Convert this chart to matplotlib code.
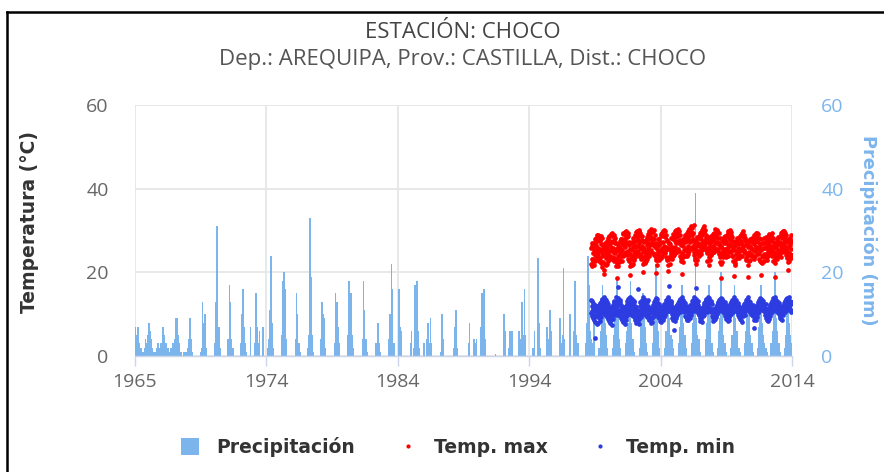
import matplotlib.pyplot as plt
from matplotlib.patches import Patch
from matplotlib.lines import Line2D
import numpy as np

# Station chart: daily precipitation (bars) and daily max/min temperature (dots)
# Values (monthly peaks for rain, 4 samples/month for temps)

precip_first_year = 1965
# one row per year, Jan..Dec, mm
precip_1965_1974 = """
7 5 7 3 2 2 1 1 2 4 3 5
8 6 4 2 1 1 1 2 3 2 2 3
7 7 5 3 1 2 1 1 2 3 3 4
9 9 5 3 1 1 0 1 1 1 1 2
4 9 4 1 0 0 0 0 0 0 1 2
13 8 10 2 0 0 0 0 0 0 0 3
13 31 7 7 2 0 0 0 0 0 0 4
17 13 4 2 0 0 0 0 0 0 3 10
16 7 3 1 0 0 0 7 0 0 0 3
15 7 3 6 0 0 7 0 0 0 2 4
"""
precip_1975_1984 = """
11 24 8 2 0 0 0 0 0 0 0 5
18 20 16 4 0 0 0 0 0 0 0 4
15 10 3 1 0 0 0 0 0 0 2 5
33 19 5 1 0 0 0 0 0 0 4 13
10 9 2 0 0 0 0 0 0 0 3 15
13 7 3 0 0 0 0 0 0 0 5 18
12 15 5 2 0 0 0 0 0 0 0 4
18 11 4 1 0 0 0 0 0 0 0 3
2 8 3 1 0 0 0 0 0 0 0 4
10 22 16 3 0 0 0 0 16 7 6 0
"""
precip_1985_1994 = """
0 0 0 0 0 0 3 6 0 2 17 5
18 6 2 0 0 0 3 0 0 4 8 3
9 3 0 0 0 0 0 0 0 1 10 4
0 0 0 0 0 0 0 0 0 2 7 11
2 0 0 0 0 0 0 0 0 0 3 8
0 0 0 4 3 4 0 0 0 7 15 5
16 4 0 0 0 0 0 0 0 0 0.5 0
0 0 0 0 0 0 10 6 0 0 2 6
3 6 0 0 0 0 0 6 0 4 13 5
16 5 0 0 0 0 0 0 2 6 0 0
"""
precip_1995_2004 = """
23.5 8 2 0 0 0 0 0 7 3 4 11
6 0 0 0 0 0 0 0 9 3 5 21
4 0 0 0 0 10 0 0 6 18 5 2
3 0 0 0 0 0 0 3 8 24 17 6
4 3 8 0 0 0 0 2 6 10 17 9
8 5 2 0 0 0 0 2 5 9 11 19
9 4 2 0 0 0 0 3 6 8 12 18
8 4 1 0 0 0 0 2 7 10 15 9
7 3 1 0 0 0 0 3 8 11 22 10
6 2 0 0 0 0 2 6 10 14 9 5
"""
precip_2005_2013 = """
4 2 0 0 0 0 3 7 11 17 8 4
5 2 0 0 0 0 3 8 12 39 9 5
4 1 0 0 0 0 4 8 11 17 9 3
3 1 0 0 0 2 6 9 20 10 5 3
3 1 0 0 0 2 5 10 17 9 6 2
2 1 0 0 0 3 6 9 14 11 5 2
3 1 0 0 0 2 7 10 17 8 5 3
2 1 0 0 0 3 6 11 20 9 6 2
3 1 0 0 0 2 5 10 14 8 5 3
"""

temp_first_year = 1999
sample_days = [4, 11, 19, 26]
# one row per year 1999..2013, 4 readings per month Jan..Dec, degC
tmax_rows = """
21.9 25.8 23.1 27.0 26.2 21.4 24.7 22.6 23.3 27.1 21.8 25.4 25.9 22.7 28.0 24.1 22.9 26.6 24.8 28.3 27.4 23.6 28.9 25.0 24.3 29.0 25.7 22.8 28.7 25.1 23.4 27.6 23.0 27.9 25.6 28.8 26.8 22.2 28.1 24.0 21.2 24.9 26.6 22.4 24.5 20.6 25.9 19.7
25.6 22.0 24.2 27.1 21.8 26.4 23.5 25.0 27.5 23.9 21.9 25.8 24.4 28.1 22.6 26.7 28.6 25.2 23.1 27.0 23.8 27.6 29.2 25.3 26.1 23.2 28.7 29.4 29.1 24.9 27.3 23.6 25.7 29.0 23.4 27.8 22.7 26.9 28.3 24.6 27.0 23.1 21.5 25.4 22.3 25.8 18.7 24.0
23.0 26.8 21.6 25.1 26.0 22.4 27.4 24.3 22.9 25.7 28.0 24.0 27.9 24.6 22.7 26.8 25.3 29.1 23.9 27.3 29.4 26.2 24.1 28.0 24.7 27.8 29.7 26.0 27.1 30.0 24.9 28.6 28.5 24.2 26.9 29.3 25.0 28.7 23.3 27.2 22.6 26.5 24.4 21.4 25.6 19.3 23.8 21.9
26.9 23.2 25.4 21.8 23.6 27.6 22.1 26.1 28.2 24.5 26.7 23.0 25.1 29.0 23.7 27.5 29.6 26.0 24.3 28.4 24.8 28.9 30.0 26.6 27.7 25.2 29.8 23.9 30.1 26.9 24.5 28.8 25.9 29.4 23.8 27.4 23.1 27.7 25.6 28.6 26.3 22.0 20.1 24.8 22.4 25.7 27.3 23.5
23.8 27.4 25.0 22.3 27.8 24.1 22.6 26.5 24.9 28.5 23.3 27.0 29.2 25.6 27.9 23.9 26.3 29.8 24.6 28.1 28.9 25.0 30.3 26.8 25.4 29.6 27.2 30.0 28.3 24.7 29.9 26.5 30.1 26.7 24.2 28.0 24.5 28.9 26.1 22.9 27.1 23.4 19.8 25.5 23.0 26.4 21.7 25.2
27.9 24.3 26.6 22.9 23.8 28.0 25.1 27.2 26.9 23.4 29.1 25.5 28.6 25.2 23.9 29.4 25.8 29.9 27.3 24.6 30.1 26.4 28.8 24.9 24.7 28.5 30.0 26.1 28.9 25.3 23.6 27.7 22.9 27.4 25.8 21.7 25.6 20.4 23.7 27.1 23.2 27.0 21.9 25.5 26.8 23.5 28.2 24.9
24.4 28.3 26.0 23.3 27.9 25.0 29.1 23.8 25.3 28.8 24.2 27.6 29.8 26.1 24.7 28.5 26.9 30.2 25.3 28.9 24.8 29.3 27.5 30.4 28.6 25.6 30.0 26.9 25.2 28.9 23.9 27.4 27.8 23.4 26.5 22.6 23.5 19.5 26.7 24.6 26.2 22.4 27.9 24.1 23.9 27.6 25.3 28.4
27.2 24.0 28.9 25.6 25.1 28.7 23.9 27.4 29.3 25.8 27.9 24.4 26.4 30.0 25.0 28.6 30.4 27.2 25.9 29.1 25.8 29.7 31.0 27.4 28.9 26.1 30.6 27.7 29.4 25.6 27.9 24.8 24.1 31.2 26.6 22.9 27.3 23.4 25.6 22.1 24.6 27.8 23.0 26.2 28.4 25.2 27.1 24.3
25.0 28.6 26.5 23.8 28.2 24.9 29.4 26.3 25.7 29.6 24.3 28.0 30.1 26.9 25.4 29.0 27.3 30.7 26.0 29.6 29.9 26.5 31.0 27.8 26.7 30.2 28.4 25.9 29.0 25.3 27.8 24.6 22.8 27.6 25.2 28.5 25.9 21.8 27.0 23.6 27.7 24.1 26.3 22.9 25.4 28.6 24.2 27.3
27.9 24.6 28.8 25.3 24.9 29.1 26.3 27.7 29.5 26.0 24.8 28.6 26.9 30.3 25.6 29.0 28.4 25.4 30.0 27.2 30.2 26.8 28.3 25.2 25.5 29.3 27.0 24.3 28.1 23.7 26.2 22.4 21.9 26.4 18.6 24.7 25.9 22.5 27.6 24.1 23.6 27.8 25.0 28.4 26.9 24.0 28.7 25.6
24.8 28.3 23.6 26.9 27.5 24.2 29.0 25.7 25.4 29.4 26.7 23.9 29.8 26.2 24.9 28.3 26.5 30.1 27.8 25.0 28.9 24.8 29.6 26.4 27.2 23.9 28.4 25.6 24.0 27.5 22.6 26.3 25.4 19.2 23.0 21.8 22.3 26.6 24.5 27.4 27.2 23.4 28.3 25.1 24.3 28.0 25.9 27.0
26.7 23.5 28.2 25.0 24.1 28.6 25.5 27.3 28.9 25.3 27.6 24.0 25.7 29.5 26.8 28.7 29.8 26.3 24.9 28.2 25.4 29.0 27.6 24.6 28.3 24.9 26.6 23.4 22.9 26.9 24.5 27.4 23.8 18.9 26.0 21.7 26.3 22.6 24.8 27.5 24.1 27.9 22.9 26.2 27.6 24.3 25.7 28.1
23.9 27.3 25.5 28.0 27.6 24.0 26.7 23.2 25.2 28.9 23.9 27.5 28.8 25.4 29.3 26.1 26.0 29.5 24.7 28.1 29.1 25.9 27.3 24.4 24.6 28.2 26.1 23.3 26.8 22.7 25.6 28.0 22.5 25.4 19.4 24.0 25.7 22.3 27.1 23.6 27.0 23.9 25.8 22.8 24.5 28.3 25.9 27.2
27.0 23.7 26.1 28.4 24.4 27.9 22.9 26.5 28.6 25.0 27.4 23.8 25.6 29.1 26.7 28.3 29.0 26.0 24.6 27.8 26.1 28.9 25.0 29.3 23.9 27.6 25.8 28.2 26.3 22.6 27.1 24.2 24.8 18.8 23.1 26.0 22.2 25.9 23.5 27.2 26.5 23.2 28.0 24.7 23.9 27.3 25.4 28.5
25.1 28.4 24.0 27.2 28.7 24.6 26.8 23.6 26.0 29.5 24.9 28.1 29.6 25.8 28.4 26.7 25.3 29.8 27.2 30.0 28.6 24.9 29.5 26.4 27.8 24.1 28.9 25.5 23.5 27.3 25.1 28.0 26.1 20.5 24.0 22.4 24.6 27.8 22.7 26.5 28.1 24.3 26.9 23.5 25.6 28.9 24.2 27.6
"""
tmin_rows = """
13.4 10.2 12.0 9.6 10.8 13.1 11.5 9.1 12.7 9.4 11.0 8.6 9.9 12.3 4.4 10.7 8.2 11.6 9.5 12.0 11.1 8.0 10.4 7.6 9.6 11.9 7.9 10.3 12.1 9.0 10.9 8.4 10.1 12.6 9.3 11.7 12.9 10.4 13.5 11.2 11.0 13.7 10.3 12.5 13.2 10.7 12.4 14.0
10.5 13.6 11.8 9.7 12.9 10.1 13.3 11.3 9.4 12.2 10.8 13.0 11.7 8.9 12.4 10.0 9.0 11.5 8.3 10.6 10.8 7.8 11.6 9.2 8.6 11.2 9.9 7.5 11.4 8.8 12.1 10.2 9.7 12.5 10.6 13.0 13.2 10.9 12.0 9.8 11.6 14.0 10.5 12.8 10.4 13.1 11.9 16.4
12.6 9.9 13.8 11.1 10.3 12.9 9.6 13.4 13.0 10.7 11.9 9.2 9.5 12.1 10.4 8.6 11.4 8.4 10.7 9.6 8.1 10.9 9.3 11.6 10.2 7.7 11.3 8.9 9.4 12.0 8.7 11.0 12.4 9.8 13.1 10.5 10.9 13.6 11.6 12.7 13.9 11.2 12.5 10.1 11.8 14.1 10.6 13.0
11.0 13.5 9.8 12.3 13.7 10.6 12.5 9.5 10.1 12.8 11.4 13.2 12.0 9.1 10.8 8.5 9.3 11.8 8.0 10.5 11.0 8.6 10.1 15.9 8.3 10.8 9.6 7.7 10.7 8.9 12.0 9.8 12.9 10.3 11.7 9.4 10.6 13.4 12.1 11.0 12.8 10.2 14.0 11.5 13.6 11.3 12.4 10.0
12.2 9.7 13.4 11.0 10.4 13.0 11.7 9.3 12.9 10.1 11.3 13.3 9.6 11.9 8.9 10.9 11.5 8.5 10.2 9.0 8.8 11.2 7.9 10.4 10.6 8.2 11.4 9.4 9.1 11.7 10.3 12.3 11.9 9.6 12.8 10.7 13.3 11.1 12.2 10.0 10.9 13.8 11.6 12.9 12.5 10.3 13.7 11.4
11.6 9.4 12.5 10.3 9.0 11.7 10.1 8.4 10.8 8.2 11.5 9.3 8.7 10.5 9.7 11.8 10.9 8.6 12.0 9.9 9.4 11.6 10.5 12.4 12.2 9.9 11.1 13.0 10.6 13.3 11.9 12.7 13.5 11.0 12.4 14.0 11.8 13.9 10.8 16.8 13.1 10.9 12.6 11.4 10.7 13.2 11.5 12.8
12.4 10.1 11.3 9.2 10.6 8.7 11.8 9.5 8.9 11.1 6.3 10.4 10.2 8.3 11.4 9.0 11.7 9.5 10.6 12.3 9.8 12.1 10.9 11.4 12.6 10.3 13.2 11.5 11.0 13.4 12.2 10.5 13.7 11.6 12.9 10.8 12.1 14.1 11.3 13.2 10.9 13.5 12.4 11.7 13.0 10.6 12.1 11.2
10.8 12.6 9.6 11.5 9.3 11.9 8.6 10.7 11.2 8.9 10.4 9.7 8.5 10.9 9.4 11.6 10.3 12.2 9.1 11.0 12.0 9.8 11.4 10.5 10.9 13.1 11.8 12.5 13.4 11.3 12.8 10.7 11.9 14.0 12.6 13.3 13.6 11.5 12.3 16.2 12.0 13.7 10.8 12.9 11.3 12.7 10.2 13.1
12.1 9.9 11.4 10.6 10.0 8.4 11.3 9.2 8.8 10.7 9.6 11.5 10.4 8.1 11.0 9.5 9.6 11.8 10.5 12.1 11.5 9.9 12.6 10.8 12.9 10.9 11.7 13.4 11.2 13.6 12.4 10.6 13.3 11.7 14.0 12.5 12.2 13.8 11.1 12.9 13.5 11.4 12.7 10.9 11.0 12.8 10.4 13.2
10.7 12.4 9.5 11.3 9.1 11.0 8.3 10.4 10.6 8.6 11.3 9.4 8.9 10.8 9.8 11.6 11.2 9.4 12.1 10.3 10.0 12.6 11.1 12.0 12.8 10.7 13.4 11.6 11.3 13.7 12.2 10.9 13.9 12.0 12.7 11.4 12.4 10.8 13.6 11.9 11.1 13.2 12.3 10.5 12.6 10.3 11.7 12.9
11.4 9.6 12.2 10.3 8.8 10.9 9.7 11.5 10.2 8.4 11.1 9.1 11.7 9.3 10.5 8.7 9.8 11.9 10.7 12.4 12.2 10.1 11.5 12.9 11.0 13.3 12.1 10.6 13.5 11.6 12.8 11.1 12.3 14.0 11.5 13.2 11.8 13.1 10.9 12.6 13.4 11.3 12.4 10.8 10.5 12.7 11.6 9.9
10.2 12.0 9.3 11.1 11.4 8.9 10.5 9.6 8.6 10.8 9.9 11.2 10.1 8.2 11.3 9.5 11.8 9.7 10.6 12.2 10.4 12.5 11.7 9.9 12.7 11.0 13.3 12.0 11.5 13.6 10.9 12.8 13.1 11.8 14.0 12.4 12.6 10.7 13.2 11.4 11.2 13.0 12.1 10.6 12.3 10.1 11.8 10.9
11.6 9.8 10.7 12.3 9.5 11.2 6.8 10.4 10.9 8.7 11.6 9.3 9.0 11.1 10.2 8.5 10.6 12.3 9.4 11.5 12.1 10.2 12.8 11.0 11.4 13.4 12.2 10.8 13.0 11.7 13.8 12.4 12.1 13.6 11.3 12.9 13.5 11.6 12.7 10.9 11.9 13.1 10.7 12.5 10.8 12.4 11.5 9.8
10.9 12.5 9.7 11.2 9.2 11.3 8.6 10.6 11.0 9.5 10.3 8.4 8.8 10.7 9.9 11.4 11.6 9.6 12.3 10.5 10.3 12.6 11.4 12.1 13.1 11.2 12.5 10.8 11.7 13.8 12.9 11.3 13.4 12.2 14.0 11.6 12.0 13.5 11.1 12.8 13.0 11.0 12.4 10.4 11.5 12.9 10.6 12.2
11.8 10.0 12.6 9.6 10.7 9.0 11.5 9.8 8.9 11.2 10.1 12.0 10.5 8.6 11.3 9.7 12.0 10.4 11.1 12.7 11.3 13.1 10.6 12.4 12.9 11.5 13.6 12.2 11.1 13.3 12.5 13.9 13.7 12.0 12.8 11.2 12.4 14.0 11.7 13.1 11.0 12.9 12.2 10.6 12.6 11.1 13.0 10.8
"""

x_tick_labels = ['1965', '1974', '1984', '1994', '2004', '2014']
y_ticks = [0, 20, 40, 60]


def parse_rows(text):
    return [[float(v) for v in line.split()] for line in text.strip().splitlines()]


# monthly rain bars
precip_rows = (parse_rows(precip_1965_1974) + parse_rows(precip_1975_1984) +
               parse_rows(precip_1985_1994) + parse_rows(precip_1995_2004) +
               parse_rows(precip_2005_2013))
precip_x, precip_mm = [], []
for i, row in enumerate(precip_rows):
    for m, v in enumerate(row):
        precip_x.append(precip_first_year + i + (m + 0.5) / 12)
        precip_mm.append(v)


def temp_series(text):
    xs, ys = [], []
    for i, row in enumerate(parse_rows(text)):
        for j, v in enumerate(row):
            m, k = divmod(j, 4)
            xs.append(temp_first_year + i + (m + sample_days[k] / 30.5) / 12)
            ys.append(v)
    return xs, ys


tmax_x, tmax = temp_series(tmax_rows)
tmin_x, tmin = temp_series(tmin_rows)

W, H = 884, 472
fig = plt.figure(figsize=(W / 100, H / 100), dpi=100)
fig.patch.set_facecolor('white')

ax = fig.add_axes([135 / W, 1 - 356 / H, 657 / W, 251 / H])
ax2 = ax.twinx()
# temperatures on top, rain + grid underneath
ax.set_zorder(ax2.get_zorder() + 1)
ax.patch.set_visible(False)
ax2.patch.set_visible(True)
ax2.patch.set_facecolor('white')

x_ticks = np.linspace(1965, 2014, len(x_tick_labels))
for a in (ax, ax2):
    a.set_xlim(1965, 2014)
    a.set_ylim(0, 60)
    a.set_yticks(y_ticks)
    for s in a.spines.values():
        s.set_visible(False)
ax.set_xticks(x_ticks)
ax.set_xticklabels(x_tick_labels)

# grid on the lower axes
ax2.xaxis.set_visible(True)
ax2.tick_params(axis='x', bottom=False, top=False, labelbottom=False, labeltop=False)
ax2.grid(True, color='#e6e6e6', linewidth=1.3)
ax2.set_axisbelow(True)

ax2.bar(precip_x, precip_mm, width=1.5 / 12, color='#7cb5ec', linewidth=0,
        antialiased=False, zorder=2)

ax.plot(tmax_x, tmax, 'o', color='#ff0000', ms=3.4, mew=0, zorder=3)
ax.plot(tmin_x, tmin, 'o', color='#2d3ce0', ms=3.4, mew=0, zorder=3)

ax.spines['bottom'].set_visible(True)
ax.spines['bottom'].set_color('#ccd6eb')
ax.spines['bottom'].set_linewidth(1)

ax.tick_params(axis='x', length=7, width=1, color='#ccd6eb', pad=5,
               labelsize=14, labelcolor='#666666')
ax.tick_params(axis='y', length=0, pad=19, labelsize=14, labelcolor='#666666')
ax2.tick_params(axis='y', length=0, pad=21, labelsize=14, labelcolor='#7cb5ec')
for lab in ax.get_xticklabels() + ax.get_yticklabels() + ax2.get_yticklabels():
    lab.set_family('Open Sans')

# titles
fig.text(463 / W, 1 - 33 / H, 'ESTACIÓN: CHOCO', ha='center', va='center',
         fontsize=16, color='#444444', family='Open Sans')
fig.text(463 / W, 1 - 60 / H, 'Dep.: AREQUIPA, Prov.: CASTILLA, Dist.: CHOCO',
         ha='center', va='center', fontsize=16, color='#555555', family='Open Sans')

fig.text(30 / W, 1 - 222 / H, 'Temperatura (°C)', rotation=90, ha='center', va='center',
         fontsize=13.5, fontweight='bold', color='#333333', family='DejaVu Sans')
fig.text(868 / W, 1 - 230 / H, 'Precipitación (mm)', rotation=270, ha='center', va='center',
         fontsize=12.8, fontweight='bold', color='#7cb5ec', family='DejaVu Sans')

# legend
handles = [Patch(facecolor='#7cb5ec', edgecolor='none'),
           Line2D([], [], marker='o', ls='none', color='#ff0000', ms=3, mew=0),
           Line2D([], [], marker='o', ls='none', color='#2d3ce0', ms=3, mew=0)]
fig.legend(handles, ['Precipitación', 'Temp. max', 'Temp. min'], loc='center',
           bbox_to_anchor=(458 / W, 1 - 447 / H), ncol=3, frameon=False,
           prop={'family': 'DejaVu Sans', 'weight': 'bold', 'size': 13.5},
           labelcolor='#333333', handlelength=1.0, handleheight=1.0,
           handletextpad=0.9, columnspacing=2.3)

# frame lines of the screenshot (left and top)
fig.add_artist(Line2D([7 / W, 7 / W], [0, 1 - 12 / H], transform=fig.transFigure,
                      color='black', lw=1.8))
fig.add_artist(Line2D([7 / W, 1], [1 - 12 / H, 1 - 12 / H], transform=fig.transFigure,
                      color='black', lw=1.8))

fig.savefig('out.png', dpi=100)
plt.close(fig)
